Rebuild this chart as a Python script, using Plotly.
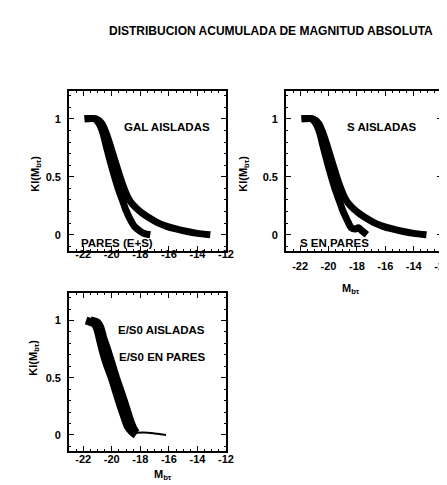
import plotly.graph_objects as go

title = "DISTRIBUCION ACUMULADA DE MAGNITUD ABSOLUTA"
xticks = [-22, -20, -18, -16, -14, -12]
yticks = [0, 0.5, 1]

# Panel 1: all galaxies
gal_ais_x = [-21.9, -21.1, -20.7, -20.4, -20.1, -19.8, -19.5, -19.2, -18.9, -18.6, -18.2, -17.8, -17.3, -16.8, -16.2, -15.5, -14.8, -14.0, -13.1]
gal_ais_y = [1, 1, 0.96, 0.88, 0.77, 0.65, 0.53, 0.42, 0.33, 0.27, 0.22, 0.18, 0.14, 0.105, 0.075, 0.05, 0.03, 0.012, 0.0]
pares_x = [-21.9, -21.2, -20.9, -20.6, -20.4, -20.1, -19.8, -19.5, -19.2, -19.0, -18.7, -18.4, -18.0, -17.7, -17.3]
pares_y = [1, 1, 0.96, 0.87, 0.77, 0.63, 0.5, 0.38, 0.28, 0.21, 0.13, 0.07, 0.03, 0.01, 0.0]

# Panel 2: spirals
s_ais_x = [-21.9, -21.1, -20.7, -20.4, -20.1, -19.8, -19.5, -19.2, -18.9, -18.6, -18.2, -17.8, -17.3, -16.8, -16.2, -15.5, -14.8, -14.0, -13.1]
s_ais_y = [1, 1, 0.96, 0.88, 0.77, 0.65, 0.53, 0.42, 0.33, 0.27, 0.22, 0.18, 0.14, 0.105, 0.075, 0.05, 0.03, 0.012, 0.0]
s_par_x = [-21.9, -21.2, -20.9, -20.6, -20.4, -20.1, -19.8, -19.5, -19.2, -19.0, -18.7, -18.4, -18.1, -17.9, -17.6, -17.3]
s_par_y = [1, 1, 0.96, 0.87, 0.77, 0.63, 0.5, 0.38, 0.28, 0.21, 0.13, 0.06, 0.05, 0.06, 0.03, 0.0]

# Panel 3: E/S0
e_ais_x = [-21.5, -21.0, -20.8, -20.6, -20.3, -20.0, -19.7, -19.4, -19.1, -18.9, -18.7, -18.5, -18.3, -17.5, -16.8, -16.2]
e_ais_y = [1, 0.98, 0.94, 0.85, 0.74, 0.62, 0.5, 0.39, 0.28, 0.2, 0.12, 0.06, 0.02, 0.02, 0.01, 0.0]
e_par_x = [-21.8, -21.2, -21.0, -20.8, -20.6, -20.3, -20.0, -19.7, -19.4, -19.1, -18.9, -18.6, -18.3]
e_par_y = [1, 0.97, 0.92, 0.82, 0.72, 0.6, 0.5, 0.38, 0.26, 0.15, 0.08, 0.03, 0.0]

W, H = 447, 485
FONT = "Liberation Sans"

fig = go.Figure()

def band(x, y, xa, ya, w=7):
    fig.add_trace(go.Scatter(x=x, y=y, mode="lines", xaxis=xa, yaxis=ya,
                             line=dict(color="black", width=w, shape="spline", smoothing=0.6),
                             showlegend=False, hoverinfo="skip"))

band(gal_ais_x, gal_ais_y, "x", "y")
band(pares_x, pares_y, "x", "y")
band(s_ais_x, s_ais_y, "x2", "y2")
band(s_par_x, s_par_y, "x2", "y2")
band(e_ais_x[:13], e_ais_y[:13], "x3", "y3", 8)
band(e_ais_x[12:], e_ais_y[12:], "x3", "y3", 2)
band(e_par_x, e_par_y, "x3", "y3", 8)

tickfont = dict(family=FONT, size=11, color="black")

def xax(dom, anchor, standoff):
    return dict(domain=dom, anchor=anchor, range=[-23, -12], tickvals=xticks,
                ticktext=[f"<b>-{abs(v)}</b>" for v in xticks],
                ticks="inside", ticklen=5, tickwidth=1, tickcolor="black",
                minor=dict(ticks="inside", ticklen=2, dtick=0.5, tickcolor="black"),
                showline=True, linecolor="black", linewidth=1.5, mirror="allticks",
                showgrid=False, zeroline=False,
                tickfont=tickfont, ticklabelstandoff=standoff)

def yax(dom, anchor):
    return dict(domain=dom, anchor=anchor, range=[-0.14, 1.24], tickvals=yticks,
                ticktext=["<b>0</b>", "<b>0.5</b>", "<b>1</b>"],
                ticks="inside", ticklen=5, tickwidth=1, tickcolor="black",
                minor=dict(ticks="inside", ticklen=2, dtick=0.1, tickcolor="black"),
                showline=True, linecolor="black", linewidth=1.5, mirror="allticks",
                showgrid=False, zeroline=False,
                tickfont=tickfont, ticklabelstandoff=4)

xd1 = [62 / W, 222 / W]
xd2 = [283 / W, 442 / W]
yd_top = [1 - 243 / H, 1 - 83 / H]
yd_bot = [1 - 443 / H, 1 - 285 / H]

fig.update_layout(
    width=W, height=H, margin=dict(l=0, r=0, t=0, b=0),
    plot_bgcolor="white", paper_bgcolor="white",
    xaxis=xax(xd1, "y", -8), yaxis=yax(yd_top, "x"),
    xaxis2=xax(xd2, "y2", 4), yaxis2=yax(yd_top, "x2"),
    xaxis3=xax(xd1, "y3", -3), yaxis3=yax(yd_bot, "x3"),
)

ann_font = dict(family=FONT, size=11.5, color="black")
def note(text, x, y, xr, yr):
    fig.add_annotation(text=f"<b>{text}</b>", x=x, y=y, xref=xr, yref=yr,
                       showarrow=False, font=ann_font)

note("GAL AISLADAS", -16.1, 0.93, "x", "y")
note("PARES (E+S)", -19.6, -0.07, "x", "y")
note("S AISLADAS", -16.2, 0.93, "x2", "y2")
note("S EN PARES", -19.6, -0.07, "x2", "y2")
note("E/S0 AISLADAS", -16.5, 0.92, "x3", "y3")
note("E/S0 EN PARES", -16.5, 0.68, "x3", "y3")

fig.add_annotation(text=f"<b>{title}</b>", x=268 / W, y=1 - 14 / H, xref="paper", yref="paper",
                   showarrow=False, font=dict(family=FONT, size=12, color="black"))

ylab = "<b>Kl(M<sub>bτ</sub>)</b>"
for (px, py) in [(19, 166), (240, 166), (17, 370)]:
    fig.add_annotation(text=ylab, x=px / W, y=1 - py / H, xref="paper", yref="paper",
                       showarrow=False, textangle=-90, font=dict(family=FONT, size=11, color="black"))

xlab = "<b>M<sub>bτ</sub></b>"
for (px, py) in [(360, 281), (147, 476)]:
    fig.add_annotation(text=xlab, x=px / W, y=1 - py / H, xref="paper", yref="paper",
                       showarrow=False, font=dict(family=FONT, size=11, color="black"))

fig.write_html("out.html")
